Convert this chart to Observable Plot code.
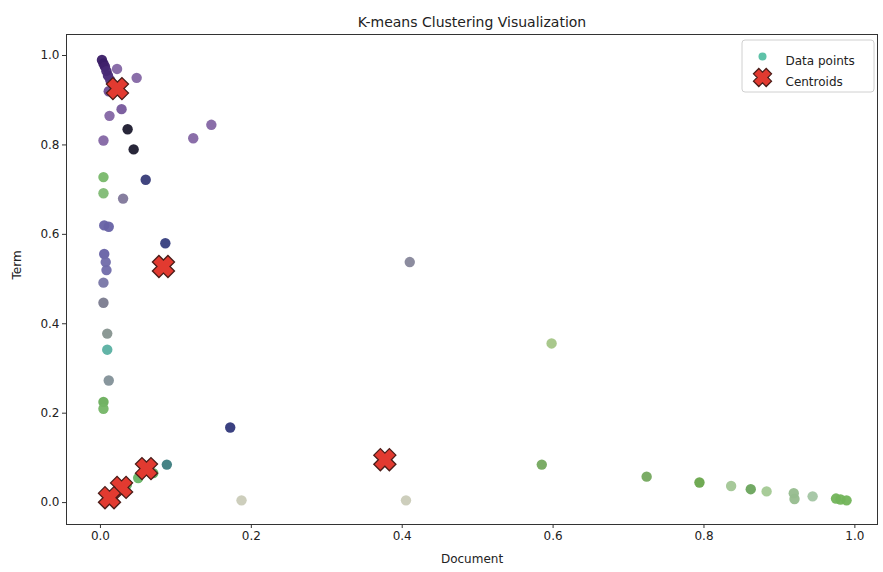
<!DOCTYPE html>
<html><head><meta charset="utf-8">
<script src="https://cdn.jsdelivr.net/npm/d3@7"></script>
<script src="https://cdn.jsdelivr.net/npm/@observablehq/plot@0.6"></script>
<style>body{margin:0;background:#fff;}</style>
</head><body><div id="chart"></div>
<script>
const titleText = "K-means Clustering Visualization";
const xLabel = "Document";
const yLabel = "Term";
const legendLabels = ["Data points", "Centroids"];
const xTicks = [0, 0.2, 0.4, 0.6, 0.8, 1.0];
const yTicks = [0, 0.2, 0.4, 0.6, 0.8, 1.0];

const docValues = [0.002,0.004,0.006,0.008,0.010,0.013,0.022,0.048,0.011,0.028,0.012,0.036,0.004,0.044,0.123,0.147,
  0.004,0.060,0.004,0.030,0.005,0.011,0.086,0.005,0.007,0.008,0.004,0.004,0.009,0.009,0.011,0.004,0.004,
  0.088,0.070,0.050,0.035,0.172,0.187,0.405,0.410,0.598,0.585,0.724,0.794,0.836,0.862,0.883,0.919,0.920,0.944,0.975,0.981,0.989];
const termValues = [0.990,0.982,0.975,0.965,0.955,0.945,0.970,0.950,0.920,0.880,0.865,0.835,0.810,0.790,0.815,0.845,
  0.728,0.722,0.692,0.680,0.620,0.617,0.580,0.556,0.538,0.520,0.492,0.447,0.378,0.342,0.273,0.225,0.210,
  0.085,0.066,0.055,0.040,0.168,0.005,0.005,0.538,0.356,0.085,0.058,0.045,0.037,0.030,0.025,0.021,0.008,0.014,0.009,0.007,0.005];
const pointShades = ["#3a1c66","#3a1c66","#3f216c","#472975","#472975","#4f327c","#8466a4","#8466a4","#6b4b92","#76579b","#8466a4","#1c1a2e","#8466a4","#1c1a2e","#8466a4","#8466a4",
  "#78b86a","#373b78","#80ba74","#7f779a","#6762a5","#6762a5","#363e7e","#6762a5","#706caa","#706caa","#7876a6","#7a7b8e","#86938f","#5ab0a2","#829098","#6aae5c","#74b566",
  "#3c7c7e","#5aab5e","#66b566","#66b566","#30377a","#cacbb8","#cacbb8","#86869a","#a4c586","#74a85e","#74a85e","#68a54b","#a2c695","#6aa45c","#a3c993","#96bc8e","#96bc8e","#a3c5a3","#72b45a","#72b45a","#72b45a"];

const centroidDoc = [0.0225, 0.0835, 0.377, 0.061, 0.028, 0.012];
const centroidTerm = [0.926, 0.528, 0.096, 0.076, 0.034, 0.011];

const points = docValues.map((d, i) => ({doc: d, term: termValues[i], shade: pointShades[i]}));
const centroids = centroidDoc.map((d, i) => ({doc: d, term: centroidTerm[i]}));

// filled "X" marker like matplotlib's 'X'
const xSymbol = {
  draw(context, size) {
    const L = Math.sqrt(size / Math.PI);
    const h = 0.42 * L;
    const pts = [[h,-L],[h,-h],[L,-h],[L,h],[h,h],[h,L],[-h,L],[-h,h],[-L,h],[-L,-h],[-h,-h],[-h,-L]]
      .map(([x, y]) => [(x - y) / Math.SQRT2, (x + y) / Math.SQRT2]);
    context.moveTo(pts[0][0], pts[0][1]);
    for (let i = 1; i < pts.length; i++) context.lineTo(pts[i][0], pts[i][1]);
    context.closePath();
  }
};

const fmt = d3.format(".1f");
const legendBox = (index, scales, values, dim) => {
  const g = d3.create("svg:g");
  const right = dim.width - dim.marginRight;
  g.append("rect")
    .attr("x", right - 135).attr("y", dim.marginTop + 6)
    .attr("width", 132).attr("height", 52).attr("rx", 3)
    .attr("fill", "#fff").attr("fill-opacity", 0.8)
    .attr("stroke", "#d0d0d0");
  return g.node();
};

const plot = Plot.plot({
  width: 883, height: 572,
  marginLeft: 66, marginRight: 6, marginTop: 34, marginBottom: 48,
  style: {fontFamily: "DejaVu Sans, sans-serif", fontSize: "12px", background: "#fff", color: "#222"},
  x: {domain: [-0.045, 1.03]},
  y: {domain: [-0.049, 1.047]},
  marks: [
    Plot.axisX({ticks: xTicks, tickFormat: fmt, tickSize: 4, tickPadding: 3, label: null, stroke: "#333"}),
    Plot.axisY({ticks: yTicks, tickFormat: fmt, tickSize: 4, tickPadding: 3, label: null, stroke: "#333"}),
    Plot.dot(points, {x: "doc", y: "term", r: 5.2, fill: "shade", fillOpacity: 0.95}),
    Plot.dot(centroids, {x: "doc", y: "term", r: 11, symbol: xSymbol, fill: "#e23a30", stroke: "#4a1c18", strokeWidth: 1.3}),
    Plot.frame({stroke: "#333"}),
    Plot.text([titleText], {text: d => d, frameAnchor: "top", dy: -17, fontSize: 14, fill: "#222"}),
    Plot.text([xLabel], {text: d => d, frameAnchor: "bottom", dy: 38, fontSize: 12, fill: "#222"}),
    Plot.text([yLabel], {text: d => d, frameAnchor: "left", dx: -49, rotate: -90, fontSize: 12, fill: "#222"}),
    legendBox,
    Plot.dot([legendLabels[0]], {frameAnchor: "top-right", dx: -115, dy: 22, r: 4, fill: "#5ec2a8"}),
    Plot.text([legendLabels[0]], {text: d => d, frameAnchor: "top-right", dx: -92, dy: 22, textAnchor: "start", fontSize: 12, fill: "#222"}),
    Plot.dot([legendLabels[1]], {frameAnchor: "top-right", dx: -115, dy: 43, r: 9, symbol: xSymbol, fill: "#e23a30", stroke: "#4a1c18", strokeWidth: 1.2}),
    Plot.text([legendLabels[1]], {text: d => d, frameAnchor: "top-right", dx: -92, dy: 43, textAnchor: "start", fontSize: 12, fill: "#222"})
  ]
});
document.getElementById("chart").appendChild(plot);
</script>
</body></html>
